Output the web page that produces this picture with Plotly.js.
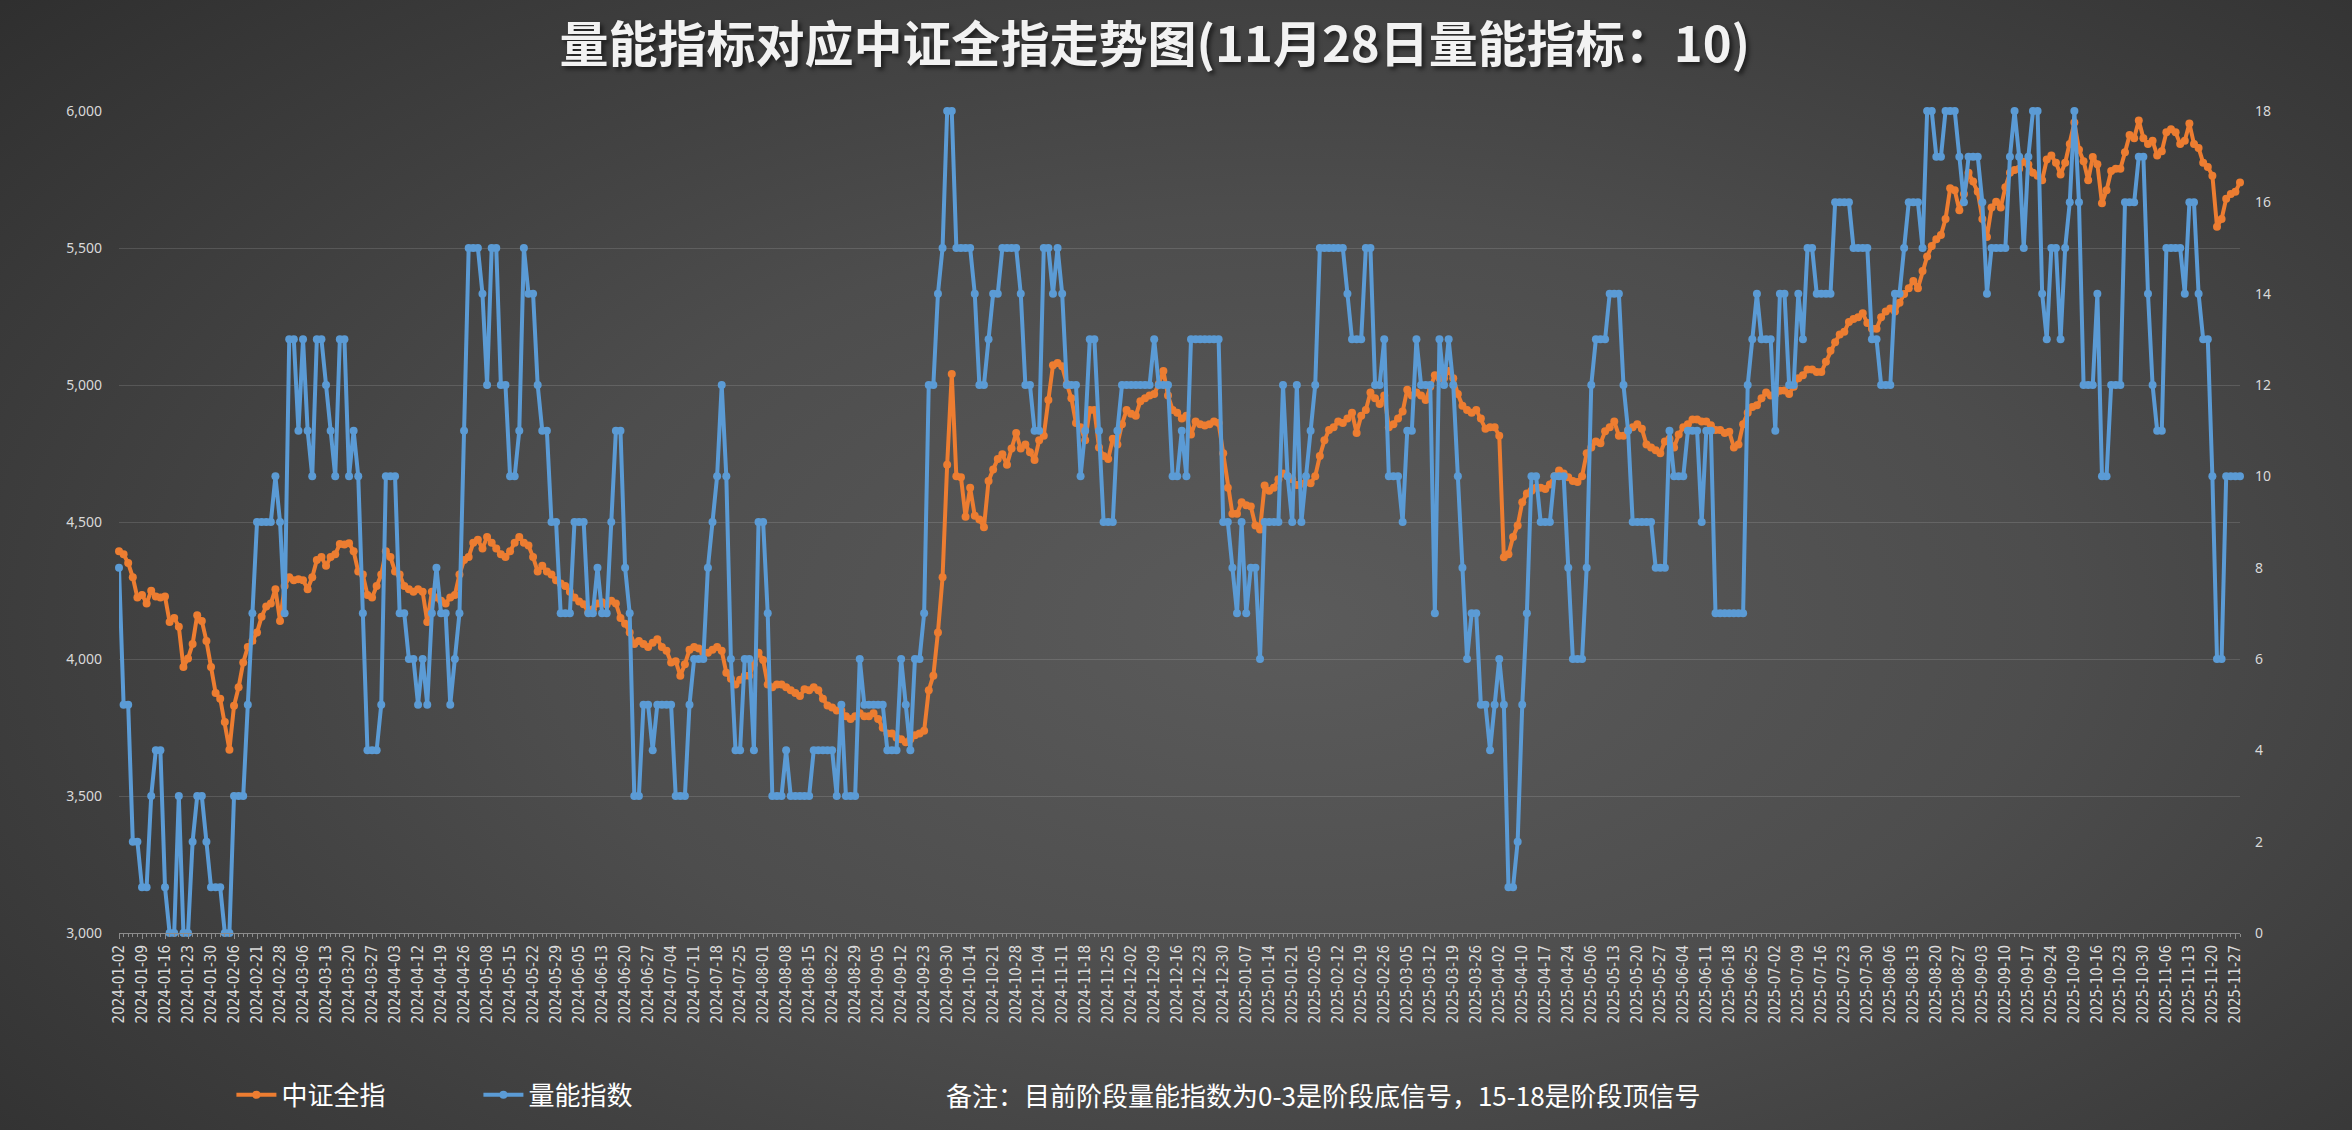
<!DOCTYPE html>
<html>
<head>
<meta charset="utf-8">
<script src="https://cdn.plot.ly/plotly-3.0.1.min.js"></script>
<style>
html, body { margin:0; padding:0; width:2352px; height:1130px; overflow:hidden;
  background: radial-gradient(ellipse 80% 90% at 55% 55%, #5b5b5b 0%, #4d4d4d 40%, #363636 80%, #2a2a2a 100%); }
#chart { width:2352px; height:1130px; }
</style>
</head>
<body>
<div id="chart"></div>
<script>
// Tick labels every 5 trading days
const tickLabels = [
'2024-01-02','2024-01-09','2024-01-16','2024-01-23','2024-01-30','2024-02-06','2024-02-21','2024-02-28','2024-03-06','2024-03-13',
'2024-03-20','2024-03-27','2024-04-03','2024-04-12','2024-04-19','2024-04-26','2024-05-08','2024-05-15','2024-05-22','2024-05-29',
'2024-06-05','2024-06-13','2024-06-20','2024-06-27','2024-07-04','2024-07-11','2024-07-18','2024-07-25','2024-08-01','2024-08-08',
'2024-08-15','2024-08-22','2024-08-29','2024-09-05','2024-09-12','2024-09-23','2024-09-30','2024-10-14','2024-10-21','2024-10-28',
'2024-11-04','2024-11-11','2024-11-18','2024-11-25','2024-12-02','2024-12-09','2024-12-16','2024-12-23','2024-12-30','2025-01-07',
'2025-01-14','2025-01-21','2025-02-05','2025-02-12','2025-02-19','2025-02-26','2025-03-05','2025-03-12','2025-03-19','2025-03-26',
'2025-04-02','2025-04-10','2025-04-17','2025-04-24','2025-05-06','2025-05-13','2025-05-20','2025-05-27','2025-06-04','2025-06-11',
'2025-06-18','2025-06-25','2025-07-02','2025-07-09','2025-07-16','2025-07-23','2025-07-30','2025-08-06','2025-08-13','2025-08-20',
'2025-08-27','2025-09-03','2025-09-10','2025-09-17','2025-09-24','2025-10-09','2025-10-16','2025-10-23','2025-10-30','2025-11-06',
'2025-11-13','2025-11-20','2025-11-27'
];

// 中证全指 (left axis)
const csiAll = [
4393,4382,4350,4298,4224,4234,4203,4249,4228,4224,
4228,4135,4150,4118,3971,4002,4055,4160,4139,4066,
3971,3876,3855,3770,3669,3829,3897,3987,4044,4066,
4097,4154,4192,4203,4255,4139,4266,4298,4287,4291,
4287,4255,4298,4361,4372,4340,4372,4382,4420,4418,
4422,4393,4319,4308,4234,4224,4266,4308,4393,4372,
4319,4308,4266,4255,4245,4255,4245,4135,4245,4224,
4213,4203,4224,4234,4308,4361,4372,4424,4435,4403,
4445,4424,4403,4382,4372,4393,4424,4445,4424,4414,
4372,4319,4340,4319,4308,4287,4276,4266,4245,4224,
4210,4200,4171,4182,4203,4207,4199,4213,4203,4150,
4129,4097,4055,4066,4055,4044,4059,4072,4044,4030,
3987,3992,3939,3981,4034,4044,4038,4023,4023,4034,
4044,4030,3950,3928,3907,3924,3939,3939,3981,4023,
3996,3907,3897,3907,3907,3897,3886,3876,3865,3890,
3886,3897,3886,3855,3830,3823,3812,3812,3791,3781,
3791,3802,3791,3791,3802,3781,3749,3728,3728,3713,
3707,3696,3707,3722,3728,3738,3886,3939,4097,4298,
4709,5040,4667,4663,4519,4625,4523,4509,4481,4650,
4692,4730,4747,4709,4768,4825,4768,4783,4755,4726,
4798,4815,4945,5072,5080,5068,5004,4952,4861,4846,
4798,4909,4909,4772,4741,4730,4804,4783,4857,4909,
4895,4888,4941,4952,4962,4967,5004,5051,4962,4909,
4899,4878,4888,4819,4867,4857,4852,4857,4867,4861,
4751,4625,4530,4530,4572,4561,4557,4487,4473,4633,
4614,4625,4656,4677,4667,4656,4635,4640,4645,4641,
4667,4741,4798,4836,4846,4867,4861,4878,4899,4825,
4888,4909,4973,4952,4931,4962,4846,4857,4878,4903,
4983,4962,4973,4962,4945,4994,5036,5025,5025,5051,
5025,4967,4924,4909,4899,4909,4878,4840,4846,4846,
4815,4371,4382,4445,4487,4572,4604,4614,4625,4625,
4620,4637,4667,4688,4677,4663,4650,4646,4667,4751,
4772,4794,4787,4831,4846,4867,4815,4815,4836,4846,
4857,4840,4783,4772,4762,4751,4794,4804,4772,4819,
4846,4857,4874,4874,4867,4867,4853,4836,4836,4825,
4829,4772,4783,4857,4899,4920,4926,4952,4973,4962,
4967,4979,4980,4967,4994,5025,5036,5057,5057,5047,
5047,5085,5125,5156,5184,5194,5230,5241,5247,5262,
5226,5205,5205,5247,5268,5279,5268,5300,5332,5353,
5380,5353,5416,5469,5507,5532,5547,5606,5718,5711,
5638,5697,5775,5743,5705,5606,5540,5648,5669,5648,
5722,5775,5785,5789,5815,5805,5775,5764,5747,5823,
5838,5811,5768,5811,5880,5958,5859,5817,5747,5832,
5806,5663,5711,5781,5789,5789,5849,5912,5901,5965,
5901,5880,5891,5838,5853,5922,5933,5922,5880,5891,
5954,5880,5865,5811,5796,5764,5578,5606,5680,5697,
5705,5739
];

// 量能指数 (right axis)
const volumeIdx = [
8,5,5,2,2,1,1,3,4,4,
1,0,0,3,0,0,2,3,3,2,
1,1,1,0,0,3,3,3,5,7,
9,9,9,9,10,9,7,13,13,11,
13,11,10,13,13,12,11,10,13,13,
10,11,10,7,4,4,4,5,10,10,
10,7,7,6,6,5,6,5,7,8,
7,7,5,6,7,11,15,15,15,14,
12,15,15,12,12,10,10,11,15,14,
14,12,11,11,9,9,7,7,7,9,
9,9,7,7,8,7,7,9,11,11,
8,7,3,3,5,5,4,5,5,5,
5,3,3,3,5,6,6,6,8,9,
10,12,10,6,4,4,6,6,4,9,
9,7,3,3,3,4,3,3,3,3,
3,4,4,4,4,4,3,5,3,3,
3,6,5,5,5,5,5,4,4,4,
6,5,4,6,6,7,12,12,14,15,
18,18,15,15,15,15,14,12,12,13,
14,14,15,15,15,15,14,12,12,11,
11,15,15,14,15,14,12,12,12,10,
11,13,13,11,9,9,9,11,12,12,
12,12,12,12,12,13,12,12,12,10,
10,11,10,13,13,13,13,13,13,13,
9,9,8,7,9,7,8,8,6,9,
9,9,9,12,10,9,12,9,10,11,
12,15,15,15,15,15,15,14,13,13,
13,15,15,12,12,13,10,10,10,9,
11,11,13,12,12,12,7,13,12,13,
12,10,8,6,7,7,5,5,4,5,
6,5,1,1,2,5,7,10,10,9,
9,9,10,10,10,8,6,6,6,8,
12,13,13,13,14,14,14,12,11,9,
9,9,9,9,8,8,8,11,10,10,
10,11,11,11,9,11,11,7,7,7,
7,7,7,7,12,13,14,13,13,13,
11,14,14,12,12,14,13,15,15,14,
14,14,14,16,16,16,16,15,15,15,
15,13,13,12,12,12,14,14,15,16,
16,16,15,18,18,17,17,18,18,18,
17,16,17,17,17,16,14,15,15,15,
15,17,18,17,15,17,18,18,14,13,
15,15,13,15,16,18,16,12,12,12,
14,10,10,12,12,12,16,16,16,17,
17,14,12,11,11,15,15,15,15,14,
16,16,14,13,13,10,6,6,10,10,
10,10
];

const titleText = '量能指标对应中证全指走势图(11月28日量能指标：10)';
const noteText = '备注：目前阶段量能指数为0-3是阶段底信号，15-18是阶段顶信号';
const seriesNames = ['中证全指', '量能指数'];

const xs = csiAll.map((_, i) => i);
const tickStep = 5;
const tickVals = tickLabels.map((_, i) => i * tickStep);

const cjk = '"Noto Sans CJK SC", "Noto Sans", sans-serif';
const narrow = '"DejaVu Sans Condensed", "DejaVu Sans", sans-serif';

const traces = [
  { x: xs, y: csiAll, name: seriesNames[0], type: 'scatter', mode: 'lines+markers',
    line: { color: '#ED7D31', width: 4 }, marker: { size: 8, color: '#ED7D31' },
    yaxis: 'y', cliponaxis: false },
  { x: xs, y: volumeIdx, name: seriesNames[1], type: 'scatter', mode: 'lines+markers',
    line: { color: '#5B9BD5', width: 4 }, marker: { size: 8, color: '#5B9BD5' },
    yaxis: 'y2', cliponaxis: false }
];

const layout = {
  width: 2352, height: 1130,
  paper_bgcolor: 'rgba(0,0,0,0)', plot_bgcolor: 'rgba(0,0,0,0)',
  margin: { l: 119, r: 112, t: 111, b: 193 },
  font: { family: cjk, color: '#d9d9d9' },
  showlegend: true,
  title: { text: '<b>' + titleText + '</b>',
    font: { size: 49, color: '#f2f2f2', family: cjk, shadow: '3px 3px 4px rgba(0,0,0,0.55)' },
    x: 0.491, xanchor: 'center', xref: 'container', y: 0.96, yanchor: 'middle', yref: 'container' },
  xaxis: {
    range: [0, xs.length - 1], tickmode: 'array', tickvals: tickVals, ticktext: tickLabels,
    tickangle: -90, tickfont: { size: 15, color: '#d9d9d9', family: narrow },
    showgrid: false, zeroline: false, showline: true, linecolor: '#8c8c8c', linewidth: 1,
    ticks: 'outside', ticklen: 5, tickcolor: '#8c8c8c',
    minor: { dtick: 1, tick0: 0, ticks: 'outside', ticklen: 3, tickcolor: '#8c8c8c', showgrid: false }
  },
  yaxis: {
    range: [3000, 6000], dtick: 500, tick0: 3000, tickformat: ',d',
    gridcolor: 'rgba(255,255,255,0.13)', gridwidth: 1, zeroline: false, showline: false,
    tickfont: { size: 14, color: '#d9d9d9', family: 'Noto Sans, sans-serif' }, ticklabelstandoff: 16
  },
  yaxis2: {
    overlaying: 'y', side: 'right', range: [0, 18], dtick: 2, tick0: 0,
    showgrid: false, zeroline: false, showline: false,
    tickfont: { size: 14, color: '#d9d9d9', family: 'Noto Sans, sans-serif' }, ticklabelstandoff: 14
  },
  legend: {
    orientation: 'h', x: 0.053, y: -0.197, xanchor: 'left', yanchor: 'middle',
    xref: 'paper', yref: 'paper',
    font: { size: 26, color: '#ffffff', family: cjk }, bgcolor: 'rgba(0,0,0,0)',
    entrywidth: 192, entrywidthmode: 'pixels', itemwidth: 40
  },
  annotations: [{
    text: noteText, xref: 'paper', yref: 'paper', x: 0.389, y: -0.197,
    xanchor: 'left', yanchor: 'middle', showarrow: false,
    font: { size: 26, color: '#ffffff', family: cjk }
  }]
};

Plotly.newPlot('chart', traces, layout, { displayModeBar: false, staticPlot: true });
</script>
</body>
</html>
